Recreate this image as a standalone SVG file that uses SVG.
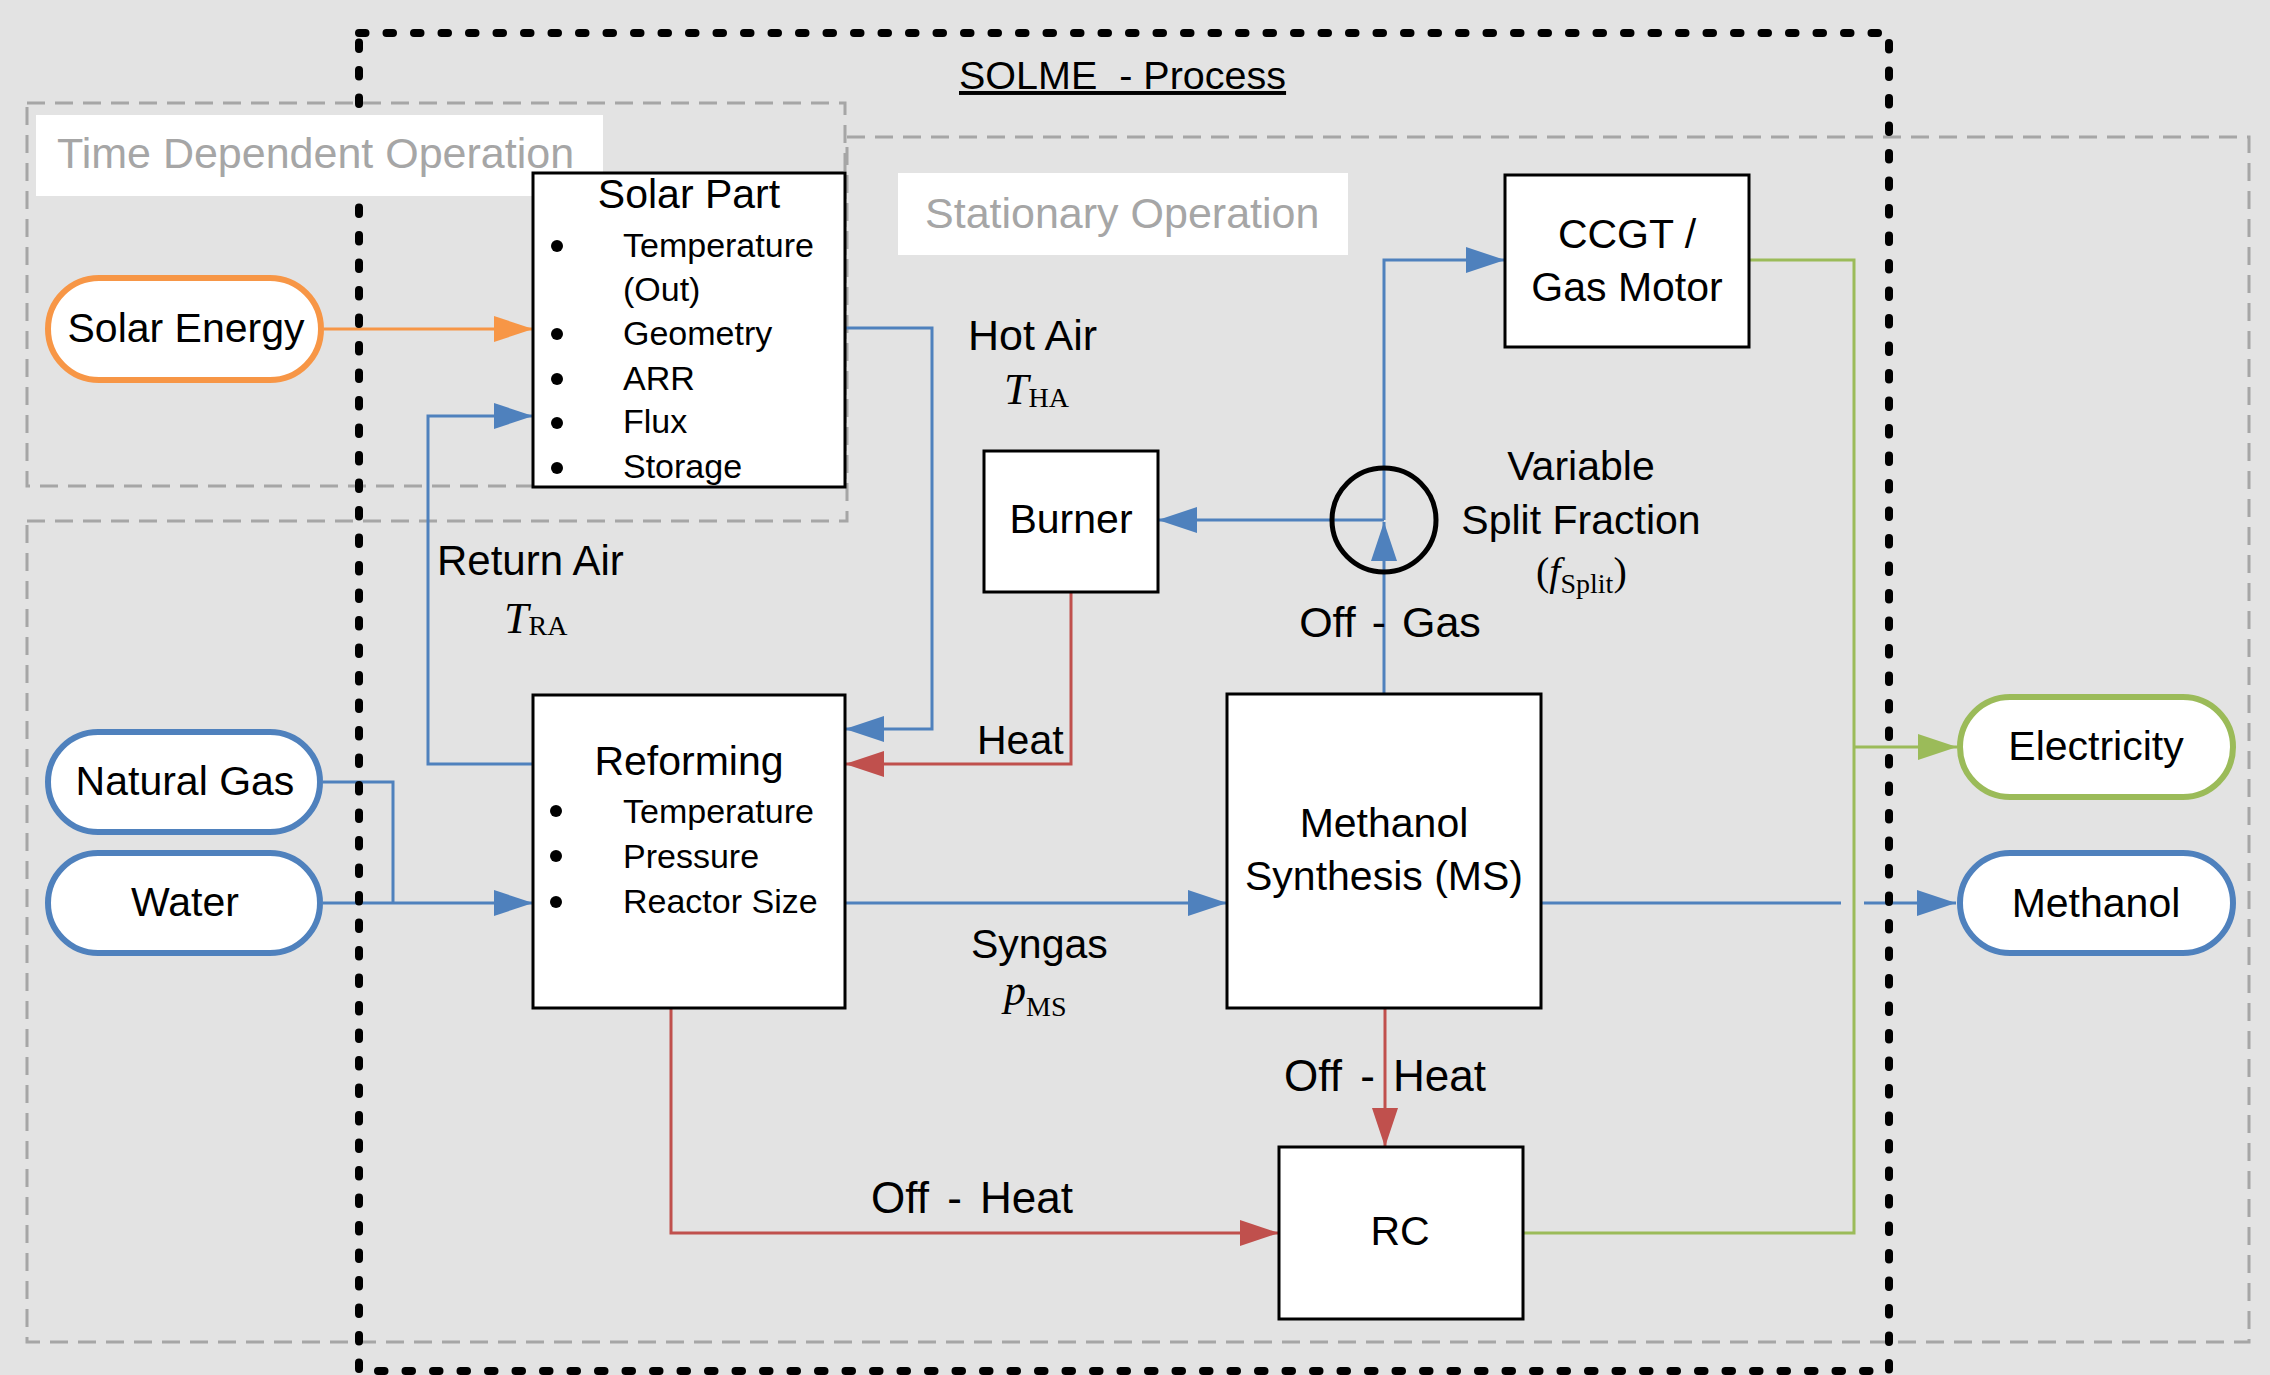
<svg xmlns="http://www.w3.org/2000/svg" width="2270" height="1375" viewBox="0 0 2270 1375">
<defs>
<style>
.t{font-family:"Liberation Sans",Arial,sans-serif;font-size:41px;fill:#000}
.c{text-anchor:middle}
.b{font-size:34px}
.m{font-family:"Liberation Serif","Times New Roman",serif;fill:#000}
.region{fill:none;stroke:#A6A6A6;stroke-width:3;stroke-dasharray:18 10}
.rl{font-family:"Liberation Sans",Arial,sans-serif;font-size:43px;fill:#A6A6A6}
.box{fill:#fff;stroke:#000;stroke-width:3}
.pill{fill:#fff;stroke-width:6}
.e{fill:none;stroke-width:3}
.blue{stroke:#4F81BD}
.red{stroke:#C0504D}
.green{stroke:#9BBB59}
.orange{stroke:#F79646}
.ws{font-size:44px;word-spacing:6px}
</style>
<marker id="ab" markerUnits="userSpaceOnUse" markerWidth="39" markerHeight="26" viewBox="0 0 39 26" refX="39" refY="13" orient="auto"><path d="M0,0L39,13L0,26z" fill="#4F81BD"/></marker>
<marker id="ar" markerUnits="userSpaceOnUse" markerWidth="39" markerHeight="26" viewBox="0 0 39 26" refX="39" refY="13" orient="auto"><path d="M0,0L39,13L0,26z" fill="#C0504D"/></marker>
<marker id="ag" markerUnits="userSpaceOnUse" markerWidth="39" markerHeight="26" viewBox="0 0 39 26" refX="39" refY="13" orient="auto"><path d="M0,0L39,13L0,26z" fill="#9BBB59"/></marker>
<marker id="ao" markerUnits="userSpaceOnUse" markerWidth="39" markerHeight="26" viewBox="0 0 39 26" refX="39" refY="13" orient="auto"><path d="M0,0L39,13L0,26z" fill="#F79646"/></marker>
</defs>
<rect x="0" y="0" width="2270" height="1375" fill="#E3E3E3"/>

<g id="regions">
<rect class="region" x="27" y="103" width="818" height="383"/>
<path class="region" d="M27,521 H847 V137 H2249 V1342 H27 Z"/>
</g>

<g id="connectors">
<path class="e orange" d="M324,329 H533" marker-end="url(#ao)"/>
<path class="e blue" d="M845,328 H932 V729 H845" marker-end="url(#ab)"/>
<path class="e blue" d="M533,764 H428 V416 H533" marker-end="url(#ab)"/>
<path class="e blue" d="M323,782 H393 V903"/>
<path class="e blue" d="M323,903 H533" marker-end="url(#ab)"/>
<path class="e blue" d="M845,903 H1227" marker-end="url(#ab)"/>
<path class="e blue" d="M1384,694 V522" marker-end="url(#ab)"/>
<path class="e blue" d="M1384,520 V260 H1505" marker-end="url(#ab)"/>
<path class="e blue" d="M1384,520 H1158" marker-end="url(#ab)"/>
<path class="e red" d="M1071,592 V764 H845" marker-end="url(#ar)"/>
<path class="e red" d="M671,1008 V1233 H1279" marker-end="url(#ar)"/>
<path class="e red" d="M1385,1008 V1147" marker-end="url(#ar)"/>
<path class="e green" d="M1749,260 H1854 V1233 H1523"/>
<path class="e green" d="M1854,747 H1957" marker-end="url(#ag)"/>
<path class="e blue" d="M1541,903 H1841"/>
<path class="e blue" d="M1864,903 H1956" marker-end="url(#ab)"/>
</g>

<g id="solme-frame">
<rect x="359" y="33" width="1530" height="1338" fill="none" stroke="#000" stroke-width="8" stroke-dasharray="6.5 21" stroke-linecap="round"/>
<text class="t" x="959" y="89" xml:space="preserve" style="font-size:39.5px" text-decoration="underline">SOLME  - Process</text>
</g>

<g id="label-time-dependent">
<rect x="36" y="115" width="567" height="81" fill="#fff"/>
<text class="rl" x="57" y="168">Time Dependent Operation</text>
</g>
<g id="label-stationary">
<rect x="898" y="173" width="450" height="82" fill="#fff"/>
<text class="rl" x="925" y="228">Stationary Operation</text>
</g>

<g id="solar-energy">
<rect class="pill orange" x="48" y="278" width="273" height="102" rx="51"/>
<text class="t c" x="186" y="342">Solar Energy</text>
</g>

<g id="solar-part">
<rect class="box" x="533" y="173" width="312" height="314"/>
<text class="t c" x="689" y="208">Solar Part</text>
<g fill="#000">
<circle cx="557" cy="246" r="6"/><circle cx="557" cy="334" r="6"/><circle cx="557" cy="379" r="6"/><circle cx="557" cy="423" r="6"/><circle cx="557" cy="468" r="6"/>
</g>
<text class="t b" x="623" y="257">Temperature</text>
<text class="t b" x="623" y="301">(Out)</text>
<text class="t b" x="623" y="345">Geometry</text>
<text class="t b" x="623" y="390">ARR</text>
<text class="t b" x="623" y="433">Flux</text>
<text class="t b" x="623" y="478">Storage</text>
</g>

<g id="natural-gas">
<rect class="pill blue" x="48" y="732" width="272" height="100" rx="50"/>
<text class="t c" x="185" y="795">Natural Gas</text>
</g>
<g id="water">
<rect class="pill blue" x="48" y="853" width="272" height="100" rx="50"/>
<text class="t c" x="185" y="916">Water</text>
</g>

<g id="reforming">
<rect class="box" x="533" y="695" width="312" height="313"/>
<text class="t c" x="689" y="775">Reforming</text>
<g fill="#000">
<circle cx="556" cy="811" r="6"/><circle cx="556" cy="856" r="6"/><circle cx="556" cy="902" r="6"/>
</g>
<text class="t b" x="623" y="823">Temperature</text>
<text class="t b" x="623" y="868">Pressure</text>
<text class="t b" x="623" y="913">Reactor Size</text>
</g>

<g id="burner">
<rect class="box" x="984" y="451" width="174" height="141"/>
<text class="t c" x="1071" y="533">Burner</text>
</g>

<g id="splitter">
<circle cx="1384" cy="520" r="52" fill="none" stroke="#000" stroke-width="5"/>
</g>

<g id="ccgt">
<rect class="box" x="1505" y="175" width="244" height="172"/>
<text class="t c" x="1627" y="248">CCGT /</text>
<text class="t c" x="1627" y="301">Gas Motor</text>
</g>

<g id="methanol-synthesis">
<rect class="box" x="1227" y="694" width="314" height="314"/>
<text class="t c" x="1384" y="837">Methanol</text>
<text class="t c" x="1384" y="890">Synthesis (MS)</text>
</g>

<g id="rc">
<rect class="box" x="1279" y="1147" width="244" height="172"/>
<text class="t c" x="1400" y="1245">RC</text>
</g>

<g id="electricity">
<rect class="pill green" x="1960" y="697" width="273" height="100" rx="50"/>
<text class="t c" x="2096" y="760">Electricity</text>
</g>
<g id="methanol">
<rect class="pill blue" x="1960" y="853" width="273" height="100" rx="50"/>
<text class="t c" x="2096" y="917">Methanol</text>
</g>

<g id="edge-labels">
<text class="t" x="968" y="350" style="font-size:43px">Hot Air</text>
<text class="m" x="1004" y="404" font-size="44"><tspan font-style="italic">T</tspan><tspan font-size="28" dy="3">HA</tspan></text>
<text class="t" x="437" y="575" style="font-size:42px">Return Air</text>
<text class="m" x="504" y="633" font-size="44"><tspan font-style="italic">T</tspan><tspan font-size="28" dy="2">RA</tspan></text>
<text class="t c" x="1581" y="480">Variable</text>
<text class="t c" x="1581" y="534">Split Fraction</text>
<text class="m" x="1536" y="585" font-size="40">(<tspan font-style="italic">f</tspan><tspan font-size="28" dy="8">Split</tspan><tspan dy="-8">)</tspan></text>
<text class="t c" x="1390" y="637" style="font-size:43px;word-spacing:4px">Off - Gas</text>
<text class="t" x="977" y="754">Heat</text>
<text class="t" x="971" y="958">Syngas</text>
<text class="m" x="1004" y="1005" font-size="44"><tspan font-style="italic">p</tspan><tspan font-size="28" dy="11">MS</tspan></text>
<text class="t c ws" x="1385" y="1091">Off - Heat</text>
<text class="t c ws" x="972" y="1213">Off - Heat</text>
</g>
</svg>
